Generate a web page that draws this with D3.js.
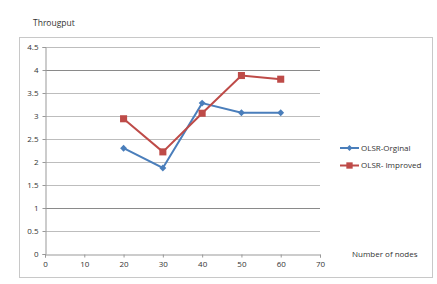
<!DOCTYPE html>
<html>
<head>
<meta charset="utf-8">
<script src="https://cdn.jsdelivr.net/npm/d3@7"></script>
<style>
  body { margin: 0; background: #fff; }
  text { font-family: "Open Sans", "DejaVu Sans", sans-serif; fill: #333; }
  .axis path, .axis line { stroke: #999; }
  .axis text { font-size: 8px; }
</style>
</head>
<body>
<div id="chart"></div>
<script>
// chart data
const nodes = [20, 30, 40, 50, 60];
const olsrOriginal = [2.3, 1.87, 3.28, 3.07, 3.07];
const olsrImproved = [2.94, 2.22, 3.06, 3.88, 3.80];
const xTicks = [0, 10, 20, 30, 40, 50, 60, 70];
const yTicks = [0, 0.5, 1, 1.5, 2, 2.5, 3, 3.5, 4, 4.5];

const series = [
  {name: 'OLSR-Orginal', values: olsrOriginal, color: '#4a7ebb', marker: 'diamond'},
  {name: 'OLSR- Improved', values: olsrImproved, color: '#be4b48', marker: 'square'}
];

const width = 437, height = 284;
const margin = {top: 47, left: 45, right: 117, bottom: 30};

const svg = d3.select('#chart').append('svg')
    .attr('width', width)
    .attr('height', height);

// outer chart frame
svg.append('rect')
    .attr('x', 19.5).attr('y', 37.5)
    .attr('width', 413).attr('height', 240)
    .attr('fill', 'none')
    .attr('stroke', '#c8c8c8');

const xScale = d3.scaleLinear()
    .domain([0, 70])
    .range([margin.left, width - margin.right]);

const yScale = d3.scaleLinear()
    .domain([0, 4.5])
    .range([height - margin.bottom, margin.top]);

// gridlines
svg.append('g')
  .selectAll('line')
  .data(yTicks.filter(d => d > 0))
  .join('line')
    .attr('x1', xScale(0))
    .attr('x2', xScale(70))
    .attr('y1', d => Math.round(yScale(d)) + 0.5)
    .attr('y2', d => Math.round(yScale(d)) + 0.5)
    .attr('stroke', d => (d === 1 || d === 4) ? '#8a8a8a' : '#bdbdbd');

// axes
svg.append('g')
    .attr('class', 'axis')
    .attr('transform', `translate(0,${Math.round(yScale(0)) + 0.5})`)
    .call(d3.axisBottom(xScale).tickValues(xTicks).tickSize(3).tickPadding(4));

svg.append('g')
    .attr('class', 'axis')
    .attr('transform', `translate(${xScale(0) + 0.5},0)`)
    .call(d3.axisLeft(yScale).tickValues(yTicks).tickSize(3).tickPadding(4)
      .tickFormat(d => d));

// lines and markers
const line = d3.line()
    .x((d, i) => xScale(nodes[i]))
    .y(d => yScale(d));

series.forEach(s => {
  svg.append('path')
      .datum(s.values)
      .attr('fill', 'none')
      .attr('stroke', s.color)
      .attr('stroke-width', 2)
      .attr('d', line);

  const sym = d3.symbol()
      .type(s.marker === 'diamond' ? d3.symbolDiamond2 : d3.symbolSquare)
      .size(s.marker === 'diamond' ? 30 : 50);

  svg.append('g')
    .selectAll('path')
    .data(s.values)
    .join('path')
      .attr('transform', (d, i) => `translate(${xScale(nodes[i])},${yScale(d)})`)
      .attr('d', sym)
      .attr('fill', s.color);
});

// legend
const legend = svg.append('g')
    .attr('transform', 'translate(340,148)');

series.forEach((s, i) => {
  const g = legend.append('g').attr('transform', `translate(0,${i * 17.5})`);
  g.append('line')
      .attr('x1', 0).attr('x2', 19)
      .attr('stroke', s.color)
      .attr('stroke-width', 2);
  g.append('path')
      .attr('transform', 'translate(9.5,0)')
      .attr('d', d3.symbol()
        .type(s.marker === 'diamond' ? d3.symbolDiamond2 : d3.symbolSquare)
        .size(s.marker === 'diamond' ? 22 : 40))
      .attr('fill', s.color);
  g.append('text')
      .attr('x', 21)
      .attr('dy', '0.35em')
      .style('font-size', '8px')
      .text(s.name);
});

// titles
svg.append('text')
    .attr('x', 33).attr('y', 26)
    .style('font-size', '8.5px')
    .text('Througput');

svg.append('text')
    .attr('x', 352).attr('y', 257)
    .style('font-size', '8px')
    .text('Number of nodes');
</script>
</body>
</html>
